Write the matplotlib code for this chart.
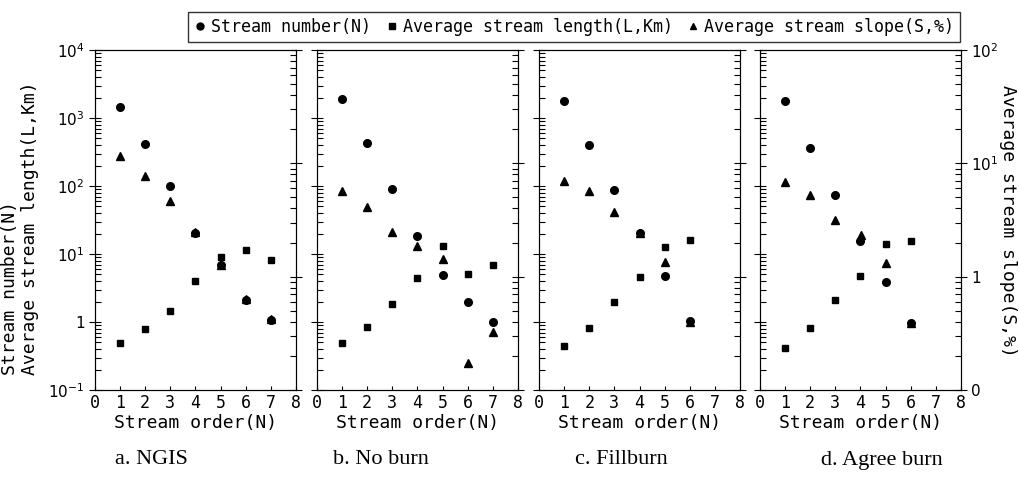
import matplotlib
matplotlib.use("Agg")
import matplotlib.pyplot as plt
from matplotlib.lines import Line2D
from matplotlib.ticker import FixedLocator, FixedFormatter, NullFormatter

# values (log axes)
panel_titles = ["a. NGIS", "b. No burn", "c. Fillburn", "d. Agree burn"]

orders_a = [1, 2, 3, 4, 5, 6, 7]
number_a = [1450, 415, 101, 20.6, 6.9, 2.1, 1.07]
length_a = [0.485, 0.78, 1.47, 4.05, 9.1, 11.5, 8.2]
slope_a = [11.5, 7.8, 4.66, 2.5, 1.28, 0.63, 0.42]

orders_b = [1, 2, 3, 4, 5, 6, 7]
number_b = [1900, 429, 89, 18.6, 4.86, 1.97, 1.01]
length_b = [0.485, 0.85, 1.84, 4.39, 13.1, 5.08, 6.9]
slope_b = [5.66, 4.15, 2.46, 1.88, 1.43, 0.173, 0.325]

orders_c = [1, 2, 3, 4, 5, 6]
number_c = [1800, 397, 87, 20.1, 4.75, 1.03]
length_c = [0.44, 0.83, 1.95, 4.54, 12.8, 16.1]
slope_c = [6.93, 5.74, 3.72, 2.43, 1.34, 0.40]

orders_d = [1, 2, 3, 4, 5, 6]
number_d = [1800, 366, 74.5, 15.5, 3.83, 0.98]
length_d = [0.41, 0.81, 2.1, 4.75, 14.0, 15.7]
slope_d = [6.8, 5.3, 3.17, 2.33, 1.32, 0.39]

panels = [
    (orders_a, number_a, length_a, slope_a),
    (orders_b, number_b, length_b, slope_b),
    (orders_c, number_c, length_c, slope_c),
    (orders_d, number_d, length_d, slope_d),
]

left_ticks = [0.1, 1, 10, 100, 1000, 10000]
left_labels = ["$10^{-1}$", "1", "$10^1$", "$10^2$", "$10^3$", "$10^4$"]
right_ticks = [0.1, 1, 10, 100]
right_labels = ["0", "1", "$10^1$", "$10^2$"]


def minor_log_ticks(lo_exp, hi_exp):
    return [m * 10.0 ** e for e in range(lo_exp, hi_exp) for m in range(2, 10)]


mono = "DejaVu Sans Mono"
W, H = 1020, 478
fig = plt.figure(figsize=(W / 100, H / 100), dpi=100)

lefts = [95, 317, 539, 760]
pw, top, bottom = 201, 50, 390

for i, (orders, num, length, slope) in enumerate(panels):
    ax = fig.add_axes([lefts[i] / W, 1 - bottom / H, pw / W, (bottom - top) / H])
    ax.set_yscale("log")
    ax.set_ylim(0.1, 10000)
    ax.set_xlim(0, 8)
    ax.plot(orders, num, "o", color="black", ms=5.5, zorder=3)
    ax.plot(orders, length, "s", color="black", ms=4.5, zorder=3)
    ax.set_xticks(range(0, 9))
    ax.set_xticklabels([str(v) for v in range(0, 9)], fontsize=12, family=mono)
    ax.yaxis.set_major_locator(FixedLocator(left_ticks))
    ax.yaxis.set_minor_locator(FixedLocator(minor_log_ticks(-1, 4)))
    ax.yaxis.set_minor_formatter(NullFormatter())
    if i == 0:
        ax.yaxis.set_major_formatter(FixedFormatter(left_labels))
    else:
        ax.yaxis.set_major_formatter(NullFormatter())
    ax.tick_params(axis="y", which="major", direction="inout", length=8, labelsize=11)
    ax.tick_params(axis="y", which="minor", direction="in", length=4, width=0.8)
    ax.tick_params(axis="x", direction="in", length=3, pad=3)
    ax.set_xlabel("Stream order(N)", fontsize=13, family=mono, labelpad=1)

    ax2 = ax.twinx()
    ax2.set_yscale("log")
    ax2.set_ylim(0.1, 100)
    ax2.plot(orders, slope, "^", color="black", ms=5.5, zorder=3)
    ax2.yaxis.set_major_locator(FixedLocator(right_ticks))
    ax2.yaxis.set_minor_locator(FixedLocator(minor_log_ticks(-1, 2)))
    ax2.yaxis.set_minor_formatter(NullFormatter())
    if i == 3:
        ax2.yaxis.set_major_formatter(FixedFormatter(right_labels))
    else:
        ax2.yaxis.set_major_formatter(NullFormatter())
    ax2.tick_params(axis="y", which="major", direction="inout", length=8, labelsize=11)
    ax2.tick_params(axis="y", which="minor", direction="in", length=4, width=0.8)

caption_x = [151, 381, 621, 882]
for cx, title in zip(caption_x, panel_titles):
    fig.text(cx / W, 1 - 460 / H, title, ha="center", va="center",
             fontsize=16, family="Liberation Serif")

fig.text(20 / W, 1 - 375 / H, "Stream number(N)\nAverage stream length(L,Km)",
         rotation=90, ha="center", va="bottom", multialignment="left",
         fontsize=13, family=mono, linespacing=1.1)
fig.text(1008 / W, 1 - 221 / H, "Average stream slope(S,%)", rotation=-90,
         ha="center", va="center", fontsize=13, family=mono)

handles = [
    Line2D([], [], marker="o", ls="none", color="black", ms=5),
    Line2D([], [], marker="s", ls="none", color="black", ms=4.5),
    Line2D([], [], marker="^", ls="none", color="black", ms=5),
]
labels = ["Stream number(N)", "Average stream length(L,Km)", "Average stream slope(S,%)"]
leg = fig.legend(handles, labels, loc="upper left", bbox_to_anchor=(180 / W, 1 - 4 / H),
                 ncol=3, frameon=True, fancybox=False, edgecolor="black",
                 prop={"family": mono, "size": 12}, handlelength=0.7,
                 handletextpad=0.3, columnspacing=0.9, borderpad=0.35)
leg.get_frame().set_linewidth(1.0)

fig.savefig("out.png", dpi=100)
